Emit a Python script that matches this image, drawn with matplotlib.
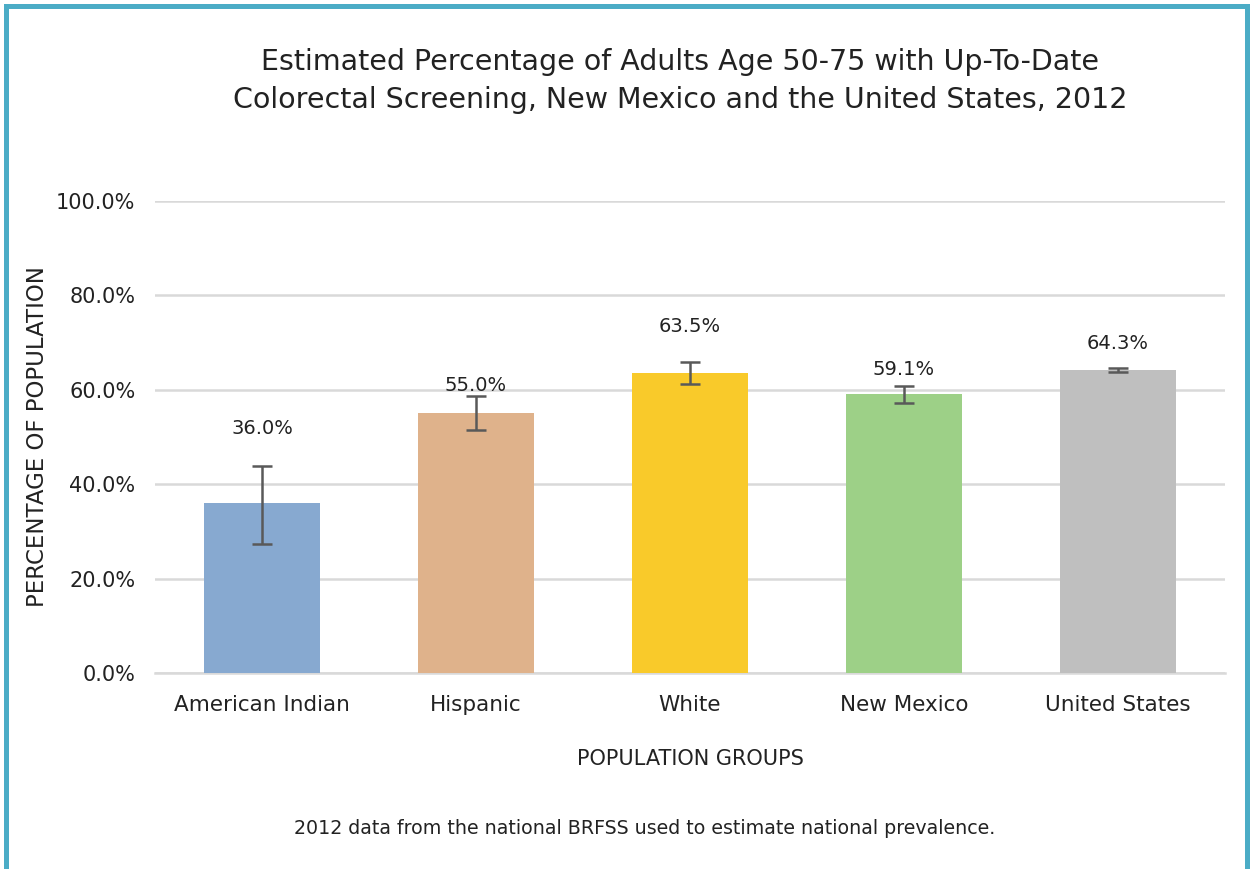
import matplotlib
matplotlib.use("Agg")
import matplotlib.pyplot as plt
from matplotlib.patches import Rectangle

categories = ["American Indian", "Hispanic", "White", "New Mexico", "United States"]
values = [36.0, 55.0, 63.5, 59.1, 64.3]
err_low = [27.3, 51.5, 61.2, 57.1, 63.7]
err_high = [43.9, 58.6, 65.8, 60.9, 64.7]
label_y = [51.9, 61.0, 73.5, 64.4, 69.9]
colors = ["#87a9d0", "#dfb28b", "#f9ca2a", "#9dd087", "#bfbfbf"]
yticks = [0, 20, 40, 60, 80, 100]

plt.rcParams['font.family'] = ["DejaVu Sans"]

fig = plt.figure(figsize=(12.51, 8.69), dpi=100)
ax = fig.add_axes([155/1251, 1-673/869, 1070/1251, (673-201)/869])

x = list(range(len(categories)))
ax.bar(x, values, width=0.54, color=colors, zorder=3)
yerr = [[v - l for v, l in zip(values, err_low)], [h - v for v, h in zip(values, err_high)]]
ax.errorbar(x, values, yerr=yerr, fmt='none', ecolor='#595959', elinewidth=1.8, capsize=7, capthick=1.8, zorder=4)
for xi, v, ly in zip(x, values, label_y):
    ax.text(xi, ly, f"{v:.1f}%", ha='center', va='center', fontsize=14, color='#222222', zorder=5)

ax.set_xlim(-0.5, len(categories) - 0.5)
ax.set_ylim(0, 100)
ax.set_yticks(yticks)
ax.set_yticklabels([f"{t:.1f}%" for t in yticks])
ax.set_xticks(x)
ax.set_xticklabels(categories)
ax.tick_params(axis='both', length=0, labelsize=15, colors='#222222')
ax.tick_params(axis='x', labelsize=15.5, pad=16)
ax.tick_params(axis='y', pad=14)
ax.grid(axis='y', color='#d9d9d9', linewidth=1.8, zorder=0)
ax.axhline(0, color='#d9d9d9', linewidth=1.8, zorder=1, clip_on=False)
for s in ax.spines.values():
    s.set_visible(False)

ax.set_ylabel("PERCENTAGE OF POPULATION", fontsize=16.5, color='#222222', labelpad=5)
ax.set_xlabel("POPULATION GROUPS", fontsize=15, color='#222222', labelpad=24)

fig.text(680/1251, 1-81/869, "Estimated Percentage of Adults Age 50-75 with Up-To-Date\nColorectal Screening, New Mexico and the United States, 2012",
         ha='center', va='center', fontsize=20.5, color='#222222', linespacing=1.45)
fig.text(645/1251, 1-828/869, "2012 data from the national BRFSS used to estimate national prevalence.",
         ha='center', va='center', fontsize=13.7, color='#222222')

# border
bc = '#4bacc6'
fig.add_artist(Rectangle((4/1251, 0), 5/1251, 1-4/869, transform=fig.transFigure, color=bc, lw=0))
fig.add_artist(Rectangle((1245/1251, 0), 5/1251, 1-4/869, transform=fig.transFigure, color=bc, lw=0))
fig.add_artist(Rectangle((4/1251, 1-9/869), 1246/1251, 5/869, transform=fig.transFigure, color=bc, lw=0))

fig.savefig("out.png", dpi=100)
